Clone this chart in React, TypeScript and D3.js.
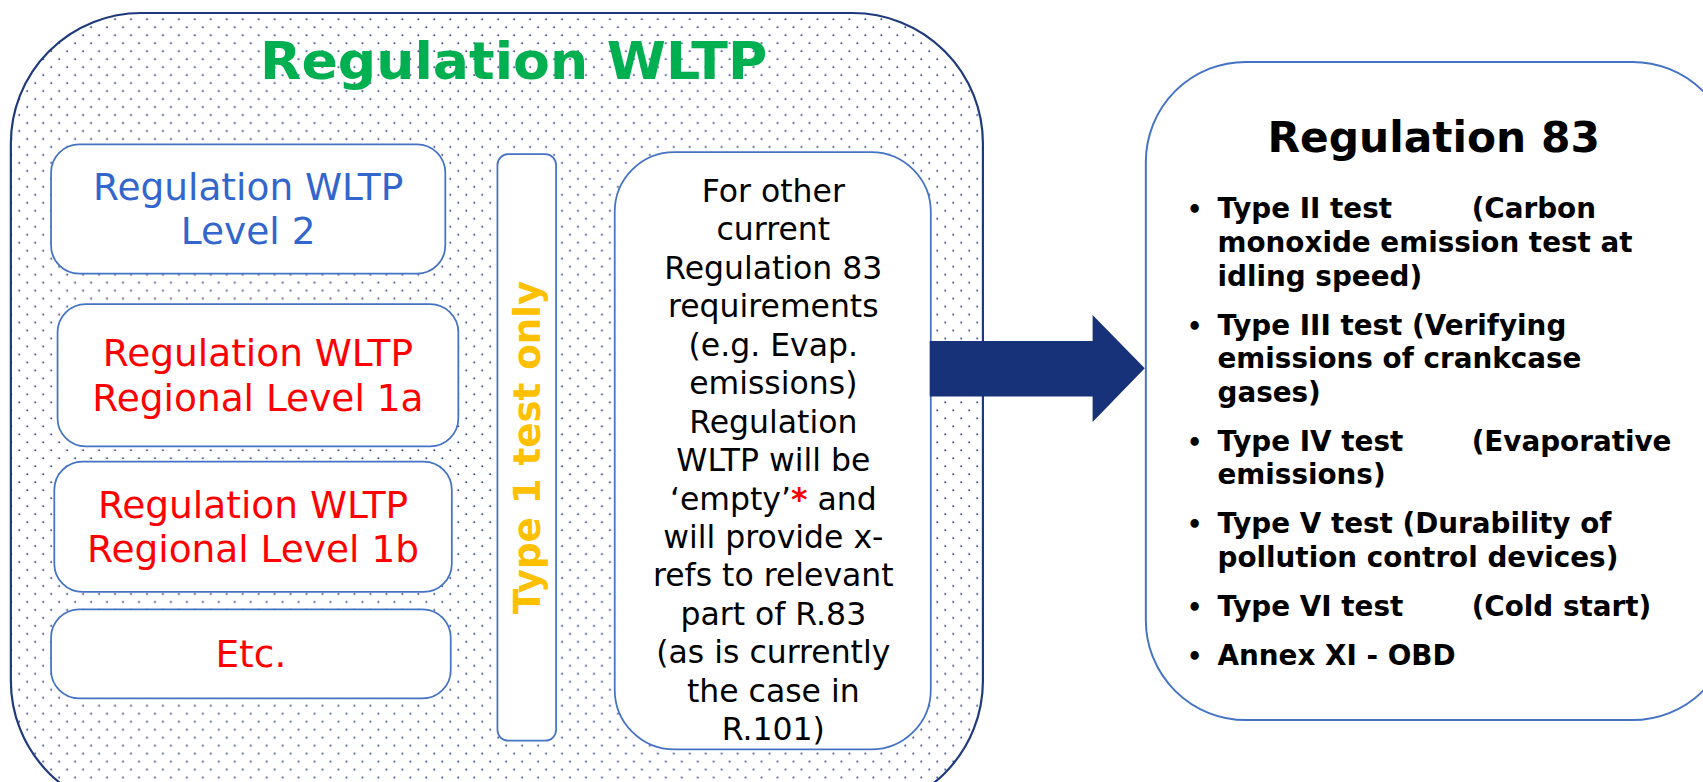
import React from 'react';
import * as d3 from 'd3';

// ---- content ----
const outerTitle = 'Regulation WLTP';
const levelLabels: string[][] = [
  ['Regulation WLTP', 'Level 2'],
  ['Regulation WLTP', 'Regional Level 1a'],
  ['Regulation WLTP', 'Regional Level 1b'],
  ['Etc.'],
];
const levelKinds = ['global', 'regional', 'regional', 'regional'];
const verticalLabel = 'Type 1 test only';
const middleLines = [
  'For other',
  'current',
  'Regulation 83',
  'requirements',
  '(e.g. Evap.',
  'emissions)',
  'Regulation',
  'WLTP will be',
  '‘empty’* and',
  'will provide x-',
  'refs to relevant',
  'part of R.83',
  '(as is currently',
  'the case in',
  'R.101)',
];
const rightTitle = 'Regulation 83';
const bulletItems: { head: string; tail: string; more: string[] }[] = [
  { head: 'Type II test', tail: '(Carbon', more: ['monoxide emission test at', 'idling speed)'] },
  { head: 'Type III test (Verifying', tail: '', more: ['emissions of crankcase', 'gases)'] },
  { head: 'Type IV test', tail: '(Evaporative', more: ['emissions)'] },
  { head: 'Type V test (Durability of', tail: '', more: ['pollution control devices)'] },
  { head: 'Type VI test', tail: '(Cold start)', more: [] },
  { head: 'Annex XI - OBD', tail: '', more: [] },
];

// ---- layout (viewBox units) ----
const VW = 1568, VH = 720;
const FONT = "'DejaVu Sans', Verdana, sans-serif";
const NAVY = '#1f3a7c';
const BOXBLUE = '#4472c4';
const kindColor: Record<string, string> = { global: '#3366cc', regional: '#ff0000' };

const levelBoxes = [
  { x: 47, y: 133, w: 363, h: 119 },
  { x: 53, y: 280, w: 369, h: 131 },
  { x: 50, y: 425, w: 366, h: 120 },
  { x: 47, y: 561, w: 368, h: 82 },
];

function roundRect(x: number, y: number, w: number, h: number, r: number) {
  const p = d3.path();
  p.moveTo(x + r, y);
  p.lineTo(x + w - r, y);
  p.arcTo(x + w, y, x + w, y + r, r);
  p.lineTo(x + w, y + h - r);
  p.arcTo(x + w, y + h, x + w - r, y + h, r);
  p.lineTo(x + r, y + h);
  p.arcTo(x, y + h, x, y + h - r, r);
  p.lineTo(x, y + r);
  p.arcTo(x, y, x + r, y, r);
  p.closePath();
  return p.toString();
}

export default function App() {
  const arrowPts: [number, number][] = [
    [856, 314], [1006, 314], [1006, 290], [1054, 339], [1006, 388.5], [1006, 365], [856, 365],
  ];
  const arrowPath = d3.line()(arrowPts)! + 'Z';

  const midY0 = 186;
  const midStep = 35.4;
  const bulletX = 1093;
  const textX = 1121;
  const tabX = 1355;
  const lineStep = 31;
  const itemGap = 14;
  const bfs = 25.6;

  let cursor = 201;
  const bulletRows: any[] = [];
  bulletItems.forEach((item, i) => {
    const y0 = cursor;
    bulletRows.push(
      <g key={'b' + i}>
        <text x={bulletX} y={y0} fontSize={22} fontWeight="bold" fill="#000">•</text>
        <text x={textX} y={y0} fontSize={bfs} fontWeight="bold" fill="#000">{item.head}</text>
        {item.tail && (
          <text x={tabX} y={y0} fontSize={bfs} fontWeight="bold" fill="#000">{item.tail}</text>
        )}
        {item.more.map((m, j) => (
          <text key={j} x={textX} y={y0 + lineStep * (j + 1)} fontSize={bfs} fontWeight="bold" fill="#000">{m}</text>
        ))}
      </g>
    );
    cursor = y0 + lineStep * (item.more.length + 1) + itemGap;
  });

  return (
    <svg
      width={1703}
      height={782}
      viewBox={`0 0 ${VW} ${VH}`}
      preserveAspectRatio="none"
      style={{ position: 'absolute', left: 0, top: 0, background: '#fff' }}
      fontFamily={FONT}
    >
      <defs>
        <pattern id="dots" patternUnits="userSpaceOnUse" width={14.7} height={14.7}>
          <circle cx={3} cy={3} r={0.95} fill="#34468a" />
          <circle cx={10.35} cy={10.35} r={0.95} fill="#34468a" />
        </pattern>
      </defs>
      <rect x={0} y={0} width={VW} height={VH} fill="#fff" />

      {/* outer WLTP container */}
      <path d={roundRect(10, 12, 895, 735, 120)} fill="#fff" />
      <path d={roundRect(10, 12, 895, 735, 120)} fill="url(#dots)" stroke={NAVY} strokeWidth={2} />
      <text
        x={473}
        y={73}
        textAnchor="middle"
        fontSize={48}
        fontWeight="bold"
        fill="#00b050"
        textLength={467}
        lengthAdjust="spacingAndGlyphs"
      >
        {outerTitle}
      </text>

      {/* level boxes */}
      {levelBoxes.map((b, i) => {
        const lines = levelLabels[i];
        const cx = b.x + b.w / 2;
        const cy = b.y + b.h / 2;
        const gap = 41;
        return (
          <g key={i}>
            <path d={roundRect(b.x, b.y, b.w, b.h, 26)} fill="#fff" stroke={BOXBLUE} strokeWidth={1.6} />
            {lines.map((t, j) => {
              const c = cy + (j - (lines.length - 1) / 2) * gap;
              return (
                <text key={j} x={cx} y={c + 12} textAnchor="middle" fontSize={34.5} fill={kindColor[levelKinds[i]]}>
                  {t}
                </text>
              );
            })}
          </g>
        );
      })}

      {/* vertical box */}
      <path d={roundRect(458, 142, 54, 540, 10)} fill="#fff" stroke={BOXBLUE} strokeWidth={1.6} />
      <text
        transform="translate(497,412) rotate(-90)"
        textAnchor="middle"
        fontSize={34}
        fontWeight="bold"
        fill="#ffc000"
        textLength={307}
        lengthAdjust="spacingAndGlyphs"
      >
        {verticalLabel}
      </text>

      {/* middle box */}
      <path d={roundRect(566, 140, 291, 550, 55)} fill="#fff" stroke={BOXBLUE} strokeWidth={1.6} />
      {middleLines.map((t, i) => {
        const y = midY0 + midStep * i;
        if (t.includes('*')) {
          const [a, b] = t.split('*');
          return (
            <text key={i} x={712} y={y} textAnchor="middle" fontSize={29} fill="#000">
              {a}
              <tspan fill="#ff0000" fontWeight="bold">*</tspan>
              {b}
            </text>
          );
        }
        return (
          <text key={i} x={712} y={y} textAnchor="middle" fontSize={29} fill="#000">
            {t}
          </text>
        );
      })}

      {/* arrow */}
      <path d={arrowPath} fill="#173278" />

      {/* right box */}
      <path d={roundRect(1055, 57, 540, 606, 92)} fill="#fff" stroke={BOXBLUE} strokeWidth={1.8} />
      <text x={1320} y={140} textAnchor="middle" fontSize={39} fontWeight="bold" fill="#000">
        {rightTitle}
      </text>
      {bulletRows}
    </svg>
  );
}
